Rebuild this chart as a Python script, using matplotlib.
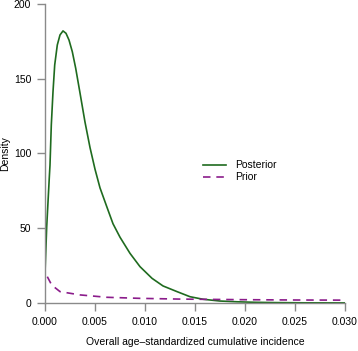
# posterior vs prior density, R base-graphics look

import matplotlib
matplotlib.use("Agg")
import matplotlib.pyplot as plt

# ==========================================
# DATA
# ==========================================

post_x = [0.0, 0.00017, 0.00043, 0.0005, 0.00063, 0.0008, 0.00097,
          0.00123, 0.0015, 0.0018, 0.0021, 0.0024, 0.00273, 0.00307,
          0.0035, 0.004, 0.0045, 0.005, 0.0055, 0.0062, 0.0068,
          0.0075, 0.0085, 0.0095, 0.0107, 0.0118, 0.0132, 0.0145,
          0.0158, 0.0175, 0.0192, 0.0210, 0.0230, 0.0260, 0.0300]
post_y = [20, 51, 84, 92.3, 119, 141.3, 159.2,
          172.6, 179.3, 182, 180.4, 175.9, 168.1, 157,
          140.5, 121, 104, 89.5, 77, 64, 53,
          44, 33.2, 24.3, 16.5, 11.4, 7.6, 4.2,
          2.5, 1.3, 0.8, 0.45, 0.25, 0.1, 0.05]

prior_x = [0.00023, 0.00067, 0.0015, 0.0035, 0.0062, 0.0095, 0.0135,
           0.0200, 0.0250, 0.0300]
prior_y = [17.6, 12, 7.6, 5.4, 3.8, 3.1, 2.6,
           2.2, 2.0, 1.9]

x_ticks = [0.000, 0.005, 0.010, 0.015, 0.020, 0.025, 0.030]
y_ticks = [0, 50, 100, 150, 200]

# ==========================================
# PLOT
# ==========================================

plt.rcParams["font.family"] = ["Liberation Sans", "DejaVu Sans"]

fig = plt.figure(figsize=(3.58, 3.51), dpi=100)
ax = fig.add_axes([0.1257, 0.1368, 0.838, 0.8518])

ax.plot(post_x, post_y, color="#1f6b1f", lw=1.2, label="Posterior")
ax.plot(prior_x, prior_y, color="#8b1c8b", lw=1.2,
        dashes=(4.5, 3.5), label="Prior")

ax.set_xlim(0, 0.03)
ax.set_ylim(0, 200)

ax.set_xticks(x_ticks)
ax.set_xticklabels([f"{v:.3f}" for v in x_ticks])
ax.set_yticks(y_ticks)

for side in ["top", "right"]:
    ax.spines[side].set_visible(False)
for side in ["left", "bottom"]:
    ax.spines[side].set_color("#8a8a8a")
    ax.spines[side].set_linewidth(1.0)

ax.tick_params(axis="both", direction="out", length=6, width=1.0,
               color="#8a8a8a", labelsize=7.5, pad=4)

ax.set_xlabel("Overall age\u2013standardized cumulative incidence",
              fontsize=7.5)
ax.set_ylabel("Density", fontsize=7.5)
ax.yaxis.set_label_coords(-0.115, 0.5)
ax.xaxis.set_label_coords(0.5, -0.115)

ax.legend(loc="center left", bbox_to_anchor=(0.497, 0.44), frameon=False,
          fontsize=7.5, handlelength=2.2, handletextpad=0.8,
          labelspacing=0.2)

fig.savefig("out.png", dpi=100)
